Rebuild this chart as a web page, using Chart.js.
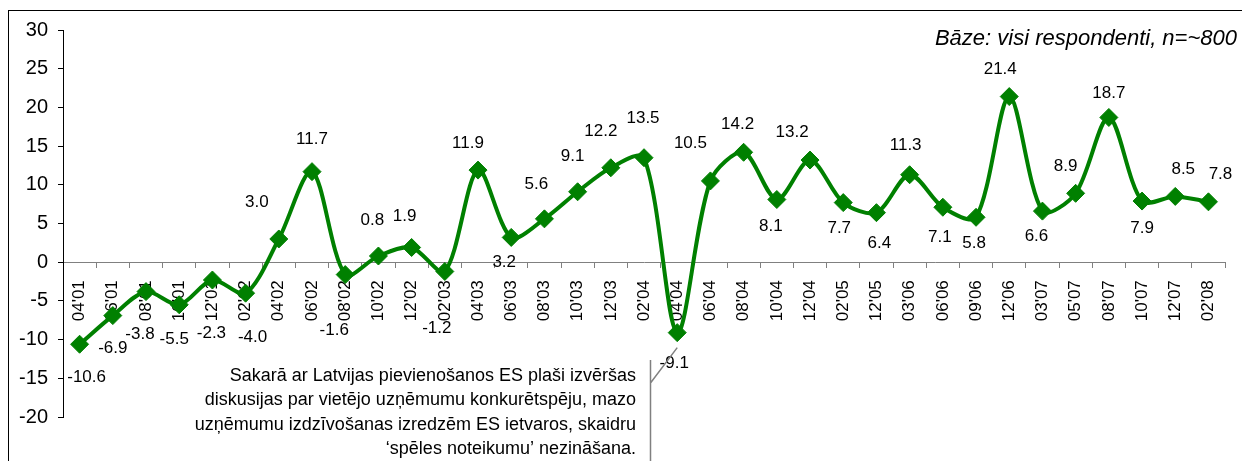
<!DOCTYPE html>
<html>
<head>
<meta charset="utf-8">
<script src="https://cdn.jsdelivr.net/npm/chart.js@4.4.1/dist/chart.umd.min.js"></script>
<style>
  html, body { margin: 0; padding: 0; background: #fff; }
  #wrap { position: relative; width: 1242px; height: 461px; }
</style>
</head>
<body>
<div id="wrap"><canvas id="chart"></canvas></div>
<script>
// periodi (mēnesis'gads)
const periodi = [
  "04'01", "06'01", "08'01", "10'01", "12'01", "02'02", "04'02", "06'02",
  "08'02", "10'02", "12'02", "02'03", "04'03", "06'03", "08'03", "10'03",
  "12'03", "02'04", "04'04", "06'04", "08'04", "10'04", "12'04", "02'05",
  "12'05", "03'06", "06'06", "09'06", "12'06", "03'07", "05'07", "08'07",
  "10'07", "12'07", "02'08"
];

// indeksa vērtības
const vertibas = [
  -10.6, -6.9, -3.8, -5.5, -2.3, -4.0, 3.0, 11.7,
  -1.6, 0.8, 1.9, -1.2, 11.9, 3.2, 5.6, 9.1,
  12.2, 13.5, -9.1, 10.5, 14.2, 8.1, 13.2, 7.7,
  6.4, 11.3, 7.1, 5.8, 21.4, 6.6, 8.9, 18.7,
  7.9, 8.5, 7.8
];

const yTicks = [-20, -15, -10, -5, 0, 5, 10, 15, 20, 25, 30];

const bazesTeksts = "Bāze: visi respondenti, n=~800";
const piezime = [
  "Sakarā ar Latvijas pievienošanos ES plaši izvēršas",
  "diskusijas par vietējo uzņēmumu konkurētspēju, mazo",
  "uzņēmumu izdzīvošanas izredzēm ES ietvaros, skaidru",
  "‘spēles noteikumu’ nezināšana."
];
const piezimesPunkts = 18; // 04'04

const zals = "#008000";
const fonts = '"Liberation Sans", Arial, sans-serif';

// datu etiķešu novietojums pret punktu (px)
const etiketesNobide = [
  [7, 33], [0, 33], [-6, 43], [-5, 35], [-1, 53], [7, 44], [-22, -37], [0, -32],
  [-11, 56], [-6, -36], [-7, -31], [-8, 57], [-10, -27], [-7, 25], [-8, -35], [-5, -35],
  [-10, -36], [-1, -39], [-3, 31], [-20, -38], [-6, -28], [-6, 27], [-18, -28], [-4, 26],
  [3, 31], [-4, -29], [-3, 30], [-2, 26], [-9, -27], [-6, 25], [-10, -27], [0, -24],
  [0, 27], [8, -27], [12, -28]
];

const etiketes = {
  id: "etiketes",
  afterDatasetsDraw(chart) {
    const ctx = chart.ctx;
    const meta = chart.getDatasetMeta(0);
    ctx.save();
    ctx.font = "17px " + fonts;
    ctx.fillStyle = "#000";
    ctx.textAlign = "center";
    ctx.textBaseline = "middle";
    meta.data.forEach((pt, i) => {
      const [dx, dy] = etiketesNobide[i];
      ctx.fillText(vertibas[i].toFixed(1), pt.x + dx, pt.y + dy);
    });
    ctx.restore();
  }
};

// rāmis, bāzes teksts un piezīme ar norādes līniju
const apdare = {
  id: "apdare",
  afterDraw(chart) {
    const ctx = chart.ctx;
    ctx.save();
    ctx.strokeStyle = "#000";
    ctx.lineWidth = 1;
    ctx.strokeRect(8.5, 10.5, chart.width + 20, chart.height + 20);

    ctx.font = "italic 22px " + fonts;
    ctx.fillStyle = "#000";
    ctx.textAlign = "right";
    ctx.textBaseline = "middle";
    ctx.fillText(bazesTeksts, 1237, 39);

    ctx.font = "18px " + fonts;
    piezime.forEach((rinda, i) => {
      ctx.fillText(rinda, 636, 376 + i * 24.3);
    });

    const pt = chart.getDatasetMeta(0).data[piezimesPunkts];
    const lx = Math.round(pt.x - 27) + 0.5;
    ctx.strokeStyle = "#808080";
    ctx.lineWidth = 1.5;
    ctx.beginPath();
    ctx.moveTo(lx, 360);
    ctx.lineTo(lx, chart.height);
    ctx.moveTo(lx, 383);
    ctx.lineTo(pt.x, pt.y + 15);
    ctx.stroke();
    ctx.restore();
  }
};

new Chart(document.getElementById("chart"), {
  type: "line",
  data: {
    labels: periodi,
    datasets: [
      {
        data: vertibas,
        borderColor: zals,
        backgroundColor: zals,
        borderWidth: 4,
        tension: 0.3,
        pointStyle: "rectRot",
        pointRadius: 9,
        pointBorderWidth: 1,
        pointBackgroundColor: zals,
        pointBorderColor: zals,
        clip: false,
      },
    ],
  },
  options: {
    responsive: true,
    maintainAspectRatio: false,
    animation: false,
    layout: { padding: { left: 0, right: 8, top: 30, bottom: 44 } },
    plugins: { legend: { display: false }, tooltip: { enabled: false } },
    scales: {
      x: {
        position: { y: 0 },
        offset: true,
        grid: {
          offset: true,
          drawOnChartArea: false,
          drawTicks: true,
          tickLength: 5,
          color: "#808080",
        },
        border: { display: true, color: "#808080", width: 1 },
        ticks: {
          autoSkip: false,
          minRotation: 90,
          maxRotation: 90,
          padding: 13,
          color: "#000",
          font: { family: fonts, size: 17 },
        },
      },
      y: {
        min: -20,
        max: 30,
        afterFit(scale) {
          scale.width = 63;
        },
        afterBuildTicks(scale) {
          scale.ticks = yTicks.map((v) => ({ value: v }));
        },
        grid: {
          drawOnChartArea: false,
          drawTicks: true,
          tickLength: 5,
          color: "#000",
        },
        border: { display: true, color: "#000", width: 1 },
        ticks: {
          padding: 10,
          color: "#000",
          font: { family: fonts, size: 20 },
        },
      },
    },
  },
  plugins: [etiketes, apdare],
});
</script>
</body>
</html>
